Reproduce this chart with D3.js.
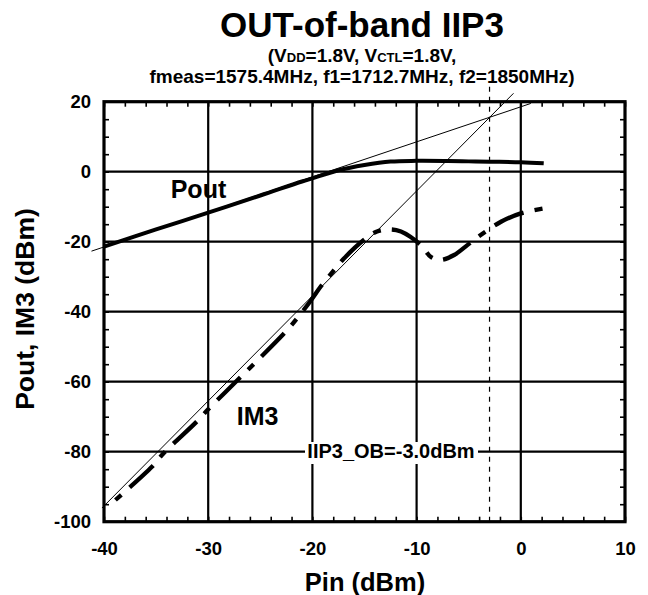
<!DOCTYPE html>
<html><head><meta charset="utf-8">
<script src="https://cdn.jsdelivr.net/npm/d3@7"></script>
<style>
html,body{margin:0;padding:0;background:#fff;}
svg{display:block;font-family:"Liberation Sans",Arial,sans-serif;font-weight:bold;}
</style></head>
<body><svg id="c" width="648" height="595"></svg>
<script>
// ---- data ----
const xTicks = [-40, -30, -20, -10, 0, 10];
const yTicks = [20, 0, -20, -40, -60, -80, -100];
const xMinor = d3.range(-40, 10.01, 2);
const yMinor = d3.range(-100, 20.01, 5);

const poutX = [-40, -35, -30, -25, -21, -20, -17.5, -15, -12.5, -10, -7, -5, -3, 0, 2.2];
const poutY = [-21.4, -16.5, -11.7, -6.8, -2.8, -1.9, 0.4, 1.9, 2.9, 3.1, 3.05, 2.95, 2.85, 2.7, 2.4];

const im3X = [-38.9, -35.4, -34.3, -31.1, -30, -26.8, -25.5, -22.4, -21.2, -20.2, -19.2, -18, -17, -15.1, -13.8, -12.5, -11.5, -10.6, -9.45, -8.65, -7.7, -6.4, -5.1, -3.85, -1.9, 0, 2.2];
const im3Y = [-93.8, -84.3, -80.5, -71.4, -67.9, -58.4, -54.6, -45.2, -40.9, -37.0, -32.8, -28.4, -24.9, -19.6, -17.1, -16.5, -17.1, -18.6, -21.4, -24.3, -25.2, -23.8, -20.9, -18.1, -14.3, -11.9, -10.5];

const fundLineX = [-41.2, 0.96];
const fundLineY = [-22.7, 19.5];
const im3LineX = [-40.2, -0.7];
const im3LineY = [-96.1, 22.4];
const iip3X = [-3.0, -3.0];
const iip3Y = [-100, 25];

const title = "OUT-of-band IIP3";
const iip3Label = "IIP3_OB=-3.0dBm";

// ---- layout ----
const svg = d3.select("#c");
const L = 104, R = 625, T = 101.7, B = 521.7;
const x = d3.scaleLinear().domain([-40, 10]).range([L, R]);
const y = d3.scaleLinear().domain([-100, 20]).range([B, T]);
const fmt = d => String(d);

// gridlines
const g = svg.append("g");
g.selectAll(".vg").data(xTicks.slice(1, -1)).join("line")
  .attr("x1", d => x(d)).attr("x2", d => x(d)).attr("y1", T).attr("y2", B)
  .attr("stroke", "#000").attr("stroke-width", 2.2);
g.selectAll(".hg").data(yTicks.slice(1, -1)).join("line")
  .attr("y1", d => y(d)).attr("y2", d => y(d)).attr("x1", L).attr("x2", R)
  .attr("stroke", "#000").attr("stroke-width", 2.2);

// minor ticks via axes (inward)
const tl = 5;
svg.append("g").attr("transform", `translate(0,${B})`)
  .call(d3.axisTop(x).tickValues(xMinor).tickSize(tl).tickFormat(""))
  .call(s => s.select(".domain").remove())
  .selectAll("line").attr("stroke-width", 1.6);
svg.append("g").attr("transform", `translate(0,${T})`)
  .call(d3.axisBottom(x).tickValues(xMinor).tickSize(tl).tickFormat(""))
  .call(s => s.select(".domain").remove())
  .selectAll("line").attr("stroke-width", 1.6);
svg.append("g").attr("transform", `translate(${L},0)`)
  .call(d3.axisRight(y).tickValues(yMinor).tickSize(tl).tickFormat(""))
  .call(s => s.select(".domain").remove())
  .selectAll("line").attr("stroke-width", 1.6);
svg.append("g").attr("transform", `translate(${R},0)`)
  .call(d3.axisLeft(y).tickValues(yMinor).tickSize(tl).tickFormat(""))
  .call(s => s.select(".domain").remove())
  .selectAll("line").attr("stroke-width", 1.6);

// frame
svg.append("rect").attr("x", L).attr("y", T).attr("width", R - L).attr("height", B - T)
  .attr("fill", "none").attr("stroke", "#000").attr("stroke-width", 3.2);

// tick labels
const xl = svg.append("g").attr("transform", `translate(0,${B})`)
  .call(d3.axisBottom(x).tickValues(xTicks).tickSize(0).tickPadding(0).tickFormat(fmt));
xl.select(".domain").remove();
xl.selectAll("text").attr("font-size", 18.5).attr("font-family", null).attr("font-weight", "bold")
  .attr("dy", null).attr("y", 33.5).attr("fill", "#000");

const yl = svg.append("g").attr("transform", `translate(${L},0)`)
  .call(d3.axisLeft(y).tickValues(yTicks).tickSize(0).tickPadding(13).tickFormat(fmt));
yl.select(".domain").remove();
yl.selectAll("text").attr("font-size", 18.5).attr("font-family", null).attr("font-weight", "bold")
  .attr("fill", "#000");

// thin extrapolation lines
const line = d3.line().x(d => x(d[0])).y(d => y(d[1]));
svg.append("path").datum(d3.zip(fundLineX, fundLineY)).attr("d", line)
  .attr("fill", "none").attr("stroke", "#000").attr("stroke-width", 1);
svg.append("path").datum(d3.zip(im3LineX, im3LineY)).attr("d", line)
  .attr("fill", "none").attr("stroke", "#000").attr("stroke-width", 1);
svg.append("path").datum(d3.zip(iip3X, iip3Y)).attr("d", line)
  .attr("fill", "none").attr("stroke", "#000").attr("stroke-width", 1.2).attr("stroke-dasharray", "5,5");

// curves
const curveLine = d3.line().x(d => x(d[0])).y(d => y(d[1])).curve(d3.curveCatmullRom.alpha(0.5));
svg.append("path").datum(d3.zip(poutX, poutY)).attr("d", curveLine)
  .attr("fill", "none").attr("stroke", "#000").attr("stroke-width", 4).attr("stroke-linejoin", "round");
svg.append("path").datum(d3.zip(im3X, im3Y)).attr("d", curveLine)
  .attr("fill", "none").attr("stroke", "#000").attr("stroke-width", 4.3)
  .attr("stroke-dasharray", "8,11,32,11");

// labels
svg.append("text").attr("x", 170.7).attr("y", 198).attr("font-size", 25).text("Pout");
svg.append("text").attr("x", 236.7).attr("y", 425).attr("font-size", 25).text("IM3");
const lab = svg.append("g");
lab.append("rect").attr("x", 305).attr("y", 442).attr("width", 173).attr("height", 22).attr("fill", "#fff");
lab.append("text").attr("x", 391).attr("y", 458.3).attr("text-anchor", "middle")
  .attr("font-size", 20).text(iip3Label);

// titles
svg.append("text").attr("x", 362).attr("y", 36.7).attr("text-anchor", "middle")
  .attr("font-size", 35).text(title);
const s1 = svg.append("text").attr("x", 362).attr("y", 61.7).attr("text-anchor", "middle").attr("font-size", 19);
s1.append("tspan").text("(V");
s1.append("tspan").attr("font-size", 13).text("DD");
s1.append("tspan").text("=1.8V, V");
s1.append("tspan").attr("font-size", 13).text("CTL");
s1.append("tspan").text("=1.8V,");
svg.append("text").attr("x", 362).attr("y", 83.3).attr("text-anchor", "middle").attr("font-size", 19)
  .text("fmeas=1575.4MHz, f1=1712.7MHz, f2=1850MHz)");

svg.append("text").attr("x", 365).attr("y", 591).attr("text-anchor", "middle").attr("font-size", 25.5)
  .text("Pin (dBm)");
svg.append("text").attr("transform", "translate(34,309) rotate(-90)").attr("text-anchor", "middle")
  .attr("font-size", 26.5).text("Pout, IM3 (dBm)");
</script></body></html>
